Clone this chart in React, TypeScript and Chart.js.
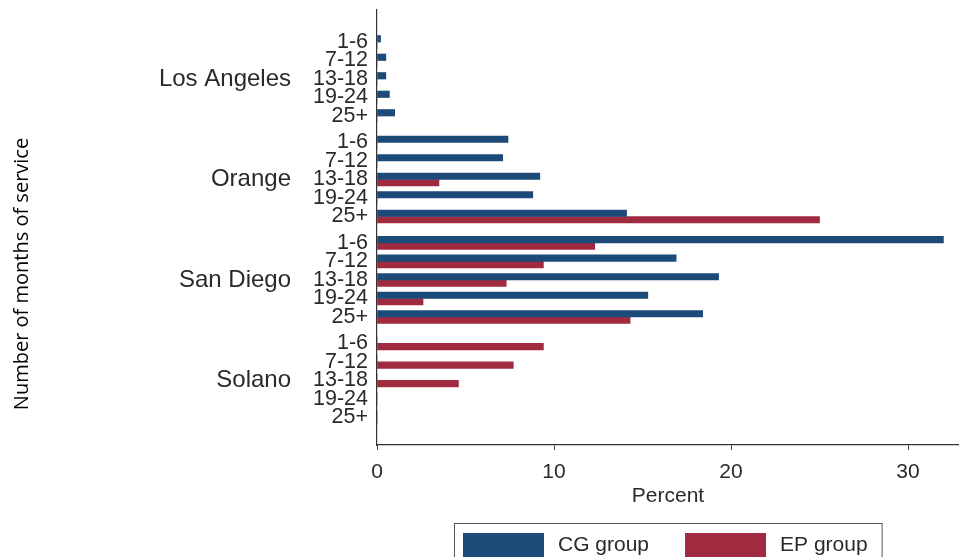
import React, { useEffect, useRef } from "react";
import { Chart, registerables } from "chart.js";

Chart.register(...registerables);

// ---- data ----
const groups = ["Los Angeles", "Orange", "San Diego", "Solano"];
const months = ["1-6", "7-12", "13-18", "19-24", "25+"];
const seriesLabels = ["CG group", "EP group"];
const cgValues = [
  0.2, 0.5, 0.5, 0.7, 1.0,
  7.4, 7.1, 9.2, 8.8, 14.1,
  32.0, 16.9, 19.3, 15.3, 18.4,
  0, 0, 0, 0, 0,
];
const epValues = [
  0, 0, 0, 0, 0,
  0, 0, 3.5, 0, 25.0,
  12.3, 9.4, 7.3, 2.6, 14.3,
  9.4, 7.7, 4.6, 0, 0,
];
const xTicks = [0, 10, 20, 30];
const xTitle = "Percent";
const yTitle = "Number of months of service";

// ---- layout (row units on the y scale) ----
const ROW_OFFSET = 1.73;
const GROUP_STEP = 5.43;
const Y_MAX = 23.51;
const X_MAX = 32.88;
const FONT = '"Liberation Sans", Arial, Helvetica, sans-serif';
const CG_COLOR = "#1c4b7a";
const EP_COLOR = "#a02a3f";
const TEXT = "#2a2a2a";

const rowPos = (g: number, i: number) => ROW_OFFSET + g * GROUP_STEP + i;
const rowPositions: number[] = [];
const rowLabels: string[] = [];
groups.forEach((_, g) =>
  months.forEach((m, i) => {
    rowPositions.push(rowPos(g, i));
    rowLabels.push(m);
  })
);
const groupCenters = groups.map((_, g) => rowPos(g, 2));
const findIdx = (arr: number[], v: number) => arr.findIndex((p) => Math.abs(p - v) < 1e-6);

const yTitlePlugin = {
  id: "yTitleFree",
  afterDraw(chart: any) {
    const { ctx } = chart;
    ctx.save();
    ctx.translate(22, 274);
    ctx.rotate(-Math.PI / 2);
    ctx.font = '20px "Open Sans", "Noto Sans", sans-serif';
    ctx.fillStyle = "#000";
    ctx.textAlign = "center";
    ctx.textBaseline = "middle";
    ctx.fillText(yTitle, 0, 0);
    ctx.restore();
  },
};

const boxLegendPlugin = {
  id: "boxLegend",
  afterDraw(chart: any) {
    const { ctx, chartArea } = chart;
    ctx.save();
    ctx.font = `21px ${FONT}`;
    const sw = 81, sh = 24, padL = 9, padR = 14, gapText = 14, gapItem = 36;
    const items = chart.data.datasets.map((ds: any) => ({
      label: ds.label,
      color: ds.backgroundColor,
      w: ctx.measureText(ds.label).width,
    }));
    let total = padL + padR;
    items.forEach((it: any, k: number) => {
      total += sw + gapText + it.w + (k < items.length - 1 ? gapItem : 0);
    });
    const cx = (chartArea.left + chartArea.right) / 2;
    const x0 = Math.round(cx - total / 2);
    const top = Math.round(chart.scales.x.bottom + 14);
    ctx.strokeStyle = "#555";
    ctx.lineWidth = 1;
    ctx.strokeRect(x0 + 0.5, top + 0.5, total, 50);
    let x = x0 + padL;
    const sy = top + 10;
    items.forEach((it: any) => {
      ctx.fillStyle = it.color;
      ctx.fillRect(x, sy, sw, sh);
      x += sw + gapText;
      ctx.fillStyle = TEXT;
      ctx.textAlign = "left";
      ctx.textBaseline = "middle";
      ctx.fillText(it.label, x, sy + sh / 2);
      x += it.w + gapItem;
    });
    ctx.restore();
  },
};

export default function App() {
  const ref = useRef<HTMLCanvasElement | null>(null);

  useEffect(() => {
    if (!ref.current) return;
    const mk = (vals: number[]) =>
      vals.map((v, k) => ({ x: v, y: rowPositions[k] }));
    const chart = new Chart(ref.current, {
      type: "bar",
      data: {
        datasets: [
          {
            label: seriesLabels[0],
            data: mk(cgValues),
            backgroundColor: CG_COLOR,
            borderWidth: 0,
            barThickness: 6.5,
          },
          {
            label: seriesLabels[1],
            data: mk(epValues),
            backgroundColor: EP_COLOR,
            borderWidth: 0,
            barThickness: 6.5,
          },
        ],
      },
      options: {
        indexAxis: "y",
        responsive: false,
        animation: false,
        layout: { padding: { left: 91, top: 10, right: 0, bottom: 48 } },
        plugins: {
          legend: { display: false },
          tooltip: { enabled: false },
        },
        scales: {
          x: {
            type: "linear",
            position: "bottom",
            min: 0,
            max: X_MAX,
            offset: false,
            afterBuildTicks: (s: any) => {
              s.ticks = xTicks.map((v) => ({ value: v }));
            },
            afterFit: (s: any) => {
              s.height = 64;
              s.paddingLeft = 0;
              s.paddingRight = 0;
            },
            grid: {
              display: true,
              drawOnChartArea: false,
              drawTicks: true,
              tickLength: 5,
              color: "#444",
              lineWidth: 1,
            },
            border: { display: true, color: "#333", width: 1.2 },
            ticks: {
              padding: 10,
              autoSkip: false,
              maxRotation: 0,
              color: TEXT,
              font: { family: FONT, size: 21 },
            },
            title: {
              display: true,
              text: xTitle,
              color: TEXT,
              font: { family: FONT, size: 21 },
              padding: { top: 0, bottom: 0 },
            },
          },
          y: {
            type: "linear",
            position: "left",
            reverse: true,
            offset: false,
            min: 0,
            max: Y_MAX,
            afterBuildTicks: (s: any) => {
              s.ticks = rowPositions.map((v) => ({ value: v }));
            },
            afterFit: (s: any) => {
              s.width = 86;
              s.paddingTop = 0;
              s.paddingBottom = 0;
            },
            grid: { display: false, drawTicks: false, offset: false },
            border: { display: true, color: "#333", width: 1.2 },
            ticks: {
              autoSkip: false,
              padding: 9,
              color: TEXT,
              font: { family: FONT, size: 21.5 },
              callback: (v: any) => rowLabels[findIdx(rowPositions, Number(v))] ?? "",
            },
          },
          y2: {
            type: "linear",
            position: "left",
            reverse: true,
            offset: false,
            min: 0,
            max: Y_MAX,
            afterBuildTicks: (s: any) => {
              s.ticks = groupCenters.map((v) => ({ value: v }));
            },
            afterFit: (s: any) => {
              s.width = 200;
              s.paddingTop = 0;
              s.paddingBottom = 0;
            },
            grid: { display: false, drawTicks: false, offset: false },
            border: { display: false },
            ticks: {
              autoSkip: false,
              padding: 0,
              color: TEXT,
              font: { family: FONT, size: 24 },
              callback: (v: any) => groups[findIdx(groupCenters, Number(v))] ?? "",
            },
          },
        },
      } as any,
      plugins: [yTitlePlugin, boxLegendPlugin],
    });
    return () => chart.destroy();
  }, []);

  return (
    <div style={{ position: "fixed", left: 0, top: 0, width: 959, height: 557, background: "#fff" }}>
      <canvas ref={ref} width={959} height={557} style={{ display: "block" }} />
    </div>
  );
}
